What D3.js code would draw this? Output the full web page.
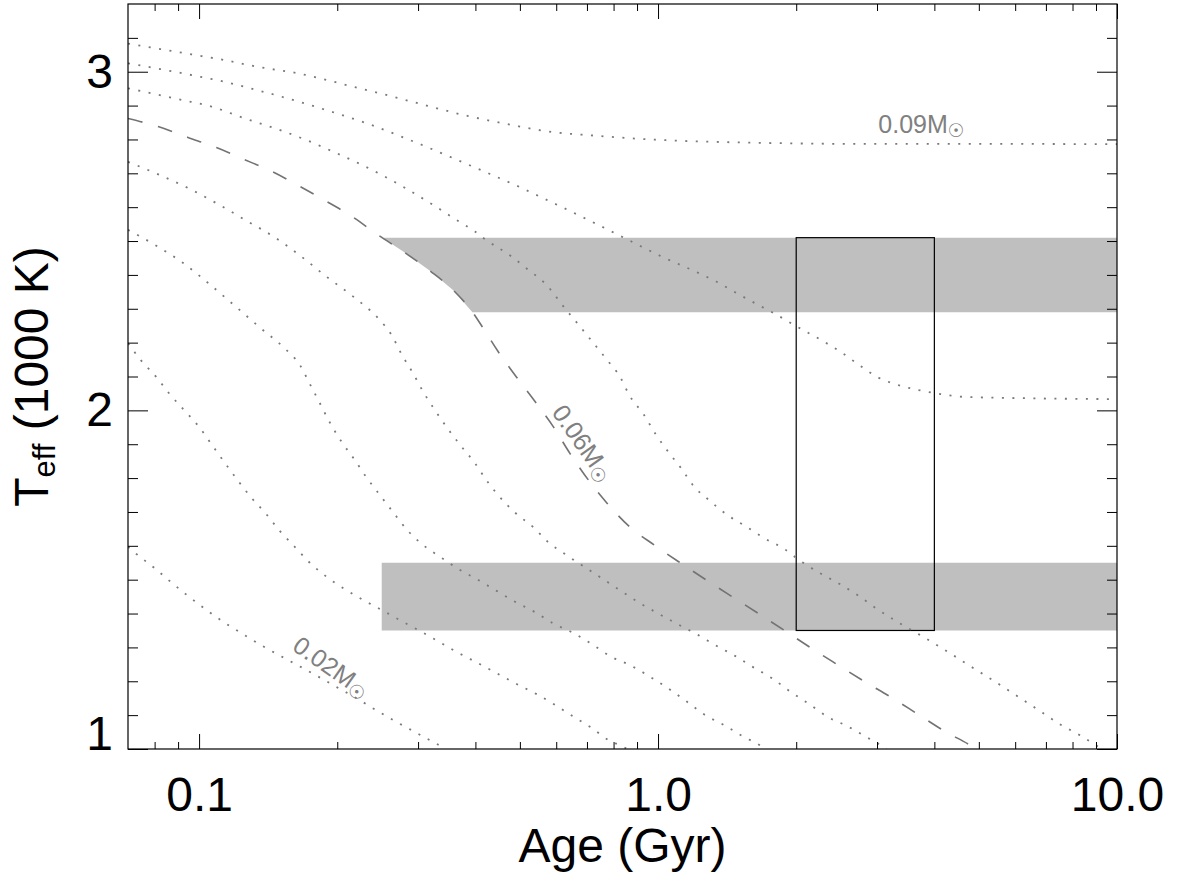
<!DOCTYPE html>
<html>
<head>
<meta charset="utf-8">
<script src="https://cdn.jsdelivr.net/npm/d3@7"></script>
<style>
  html, body { margin: 0; padding: 0; background: #fff; }
  svg { display: block; }
</style>
</head>
<body>
<svg id="chart" width="1182" height="880"></svg>
<script>
// Brown-dwarf / low-mass-star cooling tracks: [age (Gyr), Teff (1000 K)]
const track009 = [[0.070,3.083],[0.0822,3.067],[0.0964,3.051],[0.1129,3.035],[0.1336,3.015],[0.1646,2.995],[0.2135,2.958],[0.2809,2.917],[0.3131,2.900],[0.3859,2.869],[0.4797,2.843],[0.5672,2.825],[0.7485,2.810],[0.962,2.800],[1.237,2.794],[1.672,2.790],[2.627,2.787],[4.34,2.787],[10.5,2.786]];
const track008 = [[0.070,3.025],[0.0822,3.008],[0.0964,2.990],[0.1129,2.971],[0.1336,2.946],[0.1646,2.912],[0.1911,2.885],[0.2336,2.846],[0.2740,2.810],[0.3184,2.774],[0.3702,2.736],[0.4303,2.698],[0.5002,2.659],[0.5531,2.631],[0.677,2.574],[0.828,2.515],[1.012,2.456],[1.237,2.403],[1.341,2.380],[1.484,2.346],[1.629,2.316],[1.787,2.287],[1.980,2.252],[2.277,2.206],[2.498,2.173],[2.742,2.134],[3.008,2.098],[3.333,2.075],[3.693,2.060],[4.128,2.048],[4.615,2.040],[6.216,2.036],[10.5,2.033]];
const track007 = [[0.070,2.951],[0.0915,2.917],[0.1064,2.897],[0.1258,2.862],[0.1462,2.833],[0.1700,2.800],[0.1959,2.764],[0.2278,2.723],[0.2761,2.663],[0.3320,2.597],[0.3639,2.562],[0.3991,2.528],[0.4161,2.509],[0.4797,2.454],[0.5217,2.415],[0.5672,2.375],[0.6313,2.296],[0.6672,2.257],[0.7189,2.203],[0.7742,2.149],[0.8263,2.099],[0.8657,2.045],[0.9324,1.986],[0.9858,1.932],[1.052,1.878],[1.123,1.829],[1.198,1.775],[1.291,1.735],[1.416,1.691],[1.555,1.657],[1.707,1.622],[1.873,1.593],[2.055,1.553],[2.256,1.519],[2.475,1.489],[2.718,1.455],[2.981,1.416],[3.272,1.381],[3.591,1.349],[3.939,1.317],[4.325,1.283],[4.746,1.248],[5.209,1.214],[5.715,1.179],[6.272,1.143],[6.884,1.107],[7.555,1.071],[8.290,1.041],[9.097,1.007],[9.6,0.985]];
const track006 = [[0.070,2.862],[0.0814,2.838],[0.0946,2.806],[0.1091,2.776],[0.1253,2.741],[0.1433,2.707],[0.1650,2.663],[0.1885,2.619],[0.2156,2.572],[0.2455,2.518],[0.2785,2.469],[0.3184,2.412],[0.3579,2.355],[0.3958,2.287],[0.4126,2.250],[0.4486,2.173],[0.4918,2.098],[0.5410,2.024],[0.5911,1.952],[0.6427,1.873],[0.7054,1.794],[0.7742,1.726],[0.8657,1.657],[0.9820,1.602],[1.123,1.548],[1.274,1.499],[1.457,1.448],[1.659,1.399],[1.890,1.349],[2.161,1.297],[2.466,1.248],[2.818,1.199],[3.218,1.153],[3.679,1.103],[4.206,1.053],[4.816,1.009],[5.0,0.995]];
const track005 = [[0.070,2.734],[0.0821,2.695],[0.0954,2.654],[0.1100,2.609],[0.1268,2.560],[0.1462,2.511],[0.1671,2.454],[0.1894,2.395],[0.2167,2.336],[0.2455,2.272],[0.2625,2.223],[0.2761,2.166],[0.2927,2.109],[0.3078,2.055],[0.3264,2.001],[0.3477,1.947],[0.3720,1.895],[0.3991,1.844],[0.4252,1.789],[0.4548,1.740],[0.4918,1.694],[0.5349,1.655],[0.5749,1.612],[0.6310,1.573],[0.6924,1.537],[0.7602,1.501],[0.8342,1.465],[0.9152,1.430],[1.004,1.399],[1.102,1.369],[1.221,1.337],[1.340,1.305],[1.471,1.275],[1.614,1.241],[1.771,1.209],[1.944,1.169],[2.133,1.133],[2.341,1.095],[2.570,1.069],[2.846,1.035],[3.123,1.002],[3.2,0.990]];
const track004 = [[0.070,2.533],[0.0814,2.483],[0.0930,2.432],[0.1055,2.372],[0.1196,2.309],[0.1356,2.245],[0.1537,2.183],[0.1658,2.134],[0.1743,2.078],[0.1833,2.021],[0.1927,1.964],[0.2042,1.908],[0.2185,1.853],[0.2316,1.802],[0.2477,1.750],[0.2648,1.699],[0.2831,1.649],[0.3078,1.602],[0.3347,1.568],[0.3670,1.532],[0.4058,1.499],[0.4448,1.467],[0.4879,1.435],[0.5395,1.404],[0.5911,1.371],[0.6548,1.342],[0.7189,1.309],[0.7889,1.273],[0.8737,1.246],[0.9590,1.214],[1.052,1.179],[1.155,1.140],[1.267,1.100],[1.391,1.071],[1.527,1.038],[1.675,1.009],[1.72,0.998]];
const track003 = [[0.070,2.198],[0.0748,2.147],[0.0807,2.098],[0.0863,2.048],[0.0930,1.999],[0.1003,1.949],[0.1064,1.900],[0.1138,1.845],[0.1216,1.792],[0.1300,1.742],[0.1402,1.693],[0.1499,1.644],[0.1616,1.597],[0.1743,1.550],[0.1894,1.509],[0.2077,1.472],[0.2278,1.440],[0.2518,1.408],[0.2761,1.378],[0.3052,1.346],[0.3347,1.315],[0.3670,1.284],[0.4058,1.253],[0.4448,1.224],[0.4918,1.192],[0.5437,1.162],[0.5966,1.130],[0.6548,1.095],[0.7189,1.061],[0.7889,1.022],[0.8342,1.009],[0.86,0.998]];
const track002 = [[0.070,1.597],[0.0730,1.576],[0.0800,1.534],[0.0870,1.492],[0.0946,1.452],[0.1032,1.413],[0.1128,1.376],[0.1237,1.342],[0.1363,1.307],[0.1499,1.276],[0.1652,1.245],[0.1817,1.214],[0.1999,1.182],[0.2203,1.150],[0.2415,1.117],[0.2658,1.084],[0.2927,1.053],[0.3221,1.022],[0.3376,1.007],[0.345,0.998]];

const trackMasses = [0.09, 0.08, 0.07, 0.06, 0.05, 0.04, 0.03, 0.02];
const trackData   = [track009, track008, track007, track006, track005, track004, track003, track002];
const dashedMass  = 0.06;
const labelledMasses = [0.09, 0.06, 0.02];

// Teff constraints (1000 K) and the age window (Gyr)
const upperBand = [2.29, 2.51];
const lowerBand = [1.35, 1.55];
const bandStartAge = 0.25;
const boxAge  = [2.0, 4.0];
const boxTeff = [1.35, 2.51];

// axis ticks
const xMajorTicks  = [0.1, 1, 10];
const xMajorLabels = ["0.1", "1.0", "10.0"];
const xMinorTicks  = [0.08, 0.09, 0.2, 0.3, 0.4, 0.5, 0.6, 0.7, 0.8, 0.9, 2, 3, 4, 5, 6, 7, 8, 9];
const yMajorTicks  = [1, 2, 3];
const yMajorLabels = ["1", "2", "3"];
const yMinorTicks  = [1.1,1.2,1.3,1.4,1.5,1.6,1.7,1.8,1.9,2.1,2.2,2.3,2.4,2.5,2.6,2.7,2.8,2.9,3.1];

// ---------------------------------------------------------------
const FONT = '"Liberation Sans", Arial, Helvetica, sans-serif';
const svg = d3.select("#chart");
const L = 128, R = 1117, T = 4, B = 749;

const x = d3.scaleLog().domain([0.07, 10]).range([L, R]);
const y = d3.scaleLinear().domain([1, 3.2]).range([B, T]);

svg.append("defs").append("clipPath").attr("id", "plotClip")
  .append("rect").attr("x", L).attr("y", T).attr("width", R - L).attr("height", B - T);

const plot = svg.append("g").attr("clip-path", "url(#plotClip)");

// age at which a track reaches a given Teff (interpolated in log age)
function ageAtTeff(track, t) {
  for (let i = 0; i < track.length - 1; i++) {
    const [a0, t0] = track[i], [a1, t1] = track[i + 1];
    if ((t0 - t) * (t1 - t) <= 0) {
      const f = (t0 - t) / (t0 - t1);
      return Math.pow(10, Math.log10(a0) + f * (Math.log10(a1) - Math.log10(a0)));
    }
  }
  return track[0][0];
}

// shaded Teff bands; the upper one is bounded on the left by the 0.06 Msun track
const edgeAge = 11;
const upperPoly = [];
{
  const [lo, hi] = upperBand;
  upperPoly.push([Math.max(bandStartAge, ageAtTeff(track006, hi)), hi]);
  track006.filter(p => p[1] < hi && p[1] > lo && p[0] > bandStartAge).forEach(p => upperPoly.push(p));
  upperPoly.push([ageAtTeff(track006, lo), lo]);
  upperPoly.push([edgeAge, lo]);
  upperPoly.push([edgeAge, hi]);
}
const lowerPoly = [[bandStartAge, lowerBand[1]], [bandStartAge, lowerBand[0]], [edgeAge, lowerBand[0]], [edgeAge, lowerBand[1]]];

plot.selectAll("polygon.band").data([upperPoly, lowerPoly]).enter().append("polygon")
  .attr("class", "band")
  .attr("points", d => d.map(p => [x(p[0]), y(p[1])].join(",")).join(" "))
  .attr("fill", "#bfbfbf");

// age window box
plot.append("rect")
  .attr("x", x(boxAge[0])).attr("y", y(boxTeff[1]))
  .attr("width", x(boxAge[1]) - x(boxAge[0]))
  .attr("height", y(boxTeff[0]) - y(boxTeff[1]))
  .attr("fill", "none").attr("stroke", "#000").attr("stroke-width", 1.2);

// tracks
const line = d3.line().x(d => x(d[0])).y(d => y(d[1])).curve(d3.curveMonotoneX);
plot.selectAll("path.track").data(trackMasses.map((m, i) => ({ m, pts: trackData[i] })))
  .enter().append("path")
  .attr("class", "track")
  .attr("d", d => line(d.pts))
  .attr("fill", "none")
  .attr("stroke", d => d.m === dashedMass ? "#737373" : "#7a7a7a")
  .attr("stroke-width", d => d.m === dashedMass ? 1.6 : 1.8)
  .attr("stroke-dasharray", d => d.m === dashedMass ? "15 16" : "2 8.5");

// mass labels placed along their tracks
const labelPlacement = {
  0.09: { age: 3.02,  teff: 2.818, angle: 0,  anchor: "start"  },
  0.06: { age: 0.662, teff: 1.889, angle: 55, anchor: "middle" },
  0.02: { age: 0.1895, teff: 1.221, angle: 35, anchor: "middle" }
};
labelledMasses.forEach(m => {
  const p = labelPlacement[m];
  const t = svg.append("text")
    .attr("transform", `translate(${x(p.age)},${y(p.teff)}) rotate(${p.angle})`)
    .attr("text-anchor", p.anchor)
    .attr("fill", "#808080")
    .attr("font-family", FONT)
    .attr("font-size", 25);
  t.append("tspan").text(m.toFixed(2) + "M");
  t.append("tspan").attr("font-family", '"DejaVu Sans", sans-serif').attr("font-size", 19).attr("dy", 4).text("\u2609");
});

// axes (IDL-style inward ticks on all four sides)
function styleAxis(g) {
  g.select(".domain").remove();
  g.selectAll("line").attr("stroke", "#000").attr("stroke-width", 1);
  g.selectAll("text").attr("fill", "#000").attr("font-family", FONT).attr("font-size", 48);
}

svg.append("g").attr("transform", `translate(0,${B})`)
  .call(d3.axisBottom(x).tickValues(xMajorTicks).tickFormat((d, i) => xMajorLabels[i]).tickSize(-15).tickPadding(28))
  .call(styleAxis);
svg.append("g").attr("transform", `translate(0,${B})`)
  .call(d3.axisBottom(x).tickValues(xMinorTicks).tickFormat("").tickSize(-7))
  .call(styleAxis);
svg.append("g").attr("transform", `translate(0,${T})`)
  .call(d3.axisTop(x).tickValues(xMajorTicks).tickFormat("").tickSize(-15))
  .call(styleAxis);
svg.append("g").attr("transform", `translate(0,${T})`)
  .call(d3.axisTop(x).tickValues(xMinorTicks).tickFormat("").tickSize(-7))
  .call(styleAxis);

const yAxisG = svg.append("g").attr("transform", `translate(${L},0)`)
  .call(d3.axisLeft(y).tickValues(yMajorTicks).tickFormat((d, i) => yMajorLabels[i]).tickSize(-20).tickPadding(15))
  .call(styleAxis);
yAxisG.selectAll(".tick text").filter(d => d === 1).attr("dy", "0em");
svg.append("g").attr("transform", `translate(${L},0)`)
  .call(d3.axisLeft(y).tickValues(yMinorTicks).tickFormat("").tickSize(-10))
  .call(styleAxis);
svg.append("g").attr("transform", `translate(${R},0)`)
  .call(d3.axisRight(y).tickValues(yMajorTicks).tickFormat("").tickSize(-20))
  .call(styleAxis);
svg.append("g").attr("transform", `translate(${R},0)`)
  .call(d3.axisRight(y).tickValues(yMinorTicks).tickFormat("").tickSize(-10))
  .call(styleAxis);

// plot frame
svg.append("rect")
  .attr("x", L).attr("y", T).attr("width", R - L).attr("height", B - T)
  .attr("fill", "none").attr("stroke", "#000").attr("stroke-width", 1.2);

// axis titles
svg.append("text")
  .attr("x", (L + R) / 2).attr("y", 862)
  .attr("text-anchor", "middle")
  .attr("font-family", FONT).attr("font-size", 48).attr("fill", "#000")
  .text("Age (Gyr)");

const yt = svg.append("text")
  .attr("transform", `translate(48,${(T + B) / 2}) rotate(-90)`)
  .attr("text-anchor", "middle")
  .attr("font-family", FONT).attr("font-size", 48).attr("fill", "#000");
yt.append("tspan").text("T");
yt.append("tspan").attr("font-size", 31).attr("dy", 7).text("eff");
yt.append("tspan").attr("dy", -7).text(" (1000 K)");
</script>
</body>
</html>
